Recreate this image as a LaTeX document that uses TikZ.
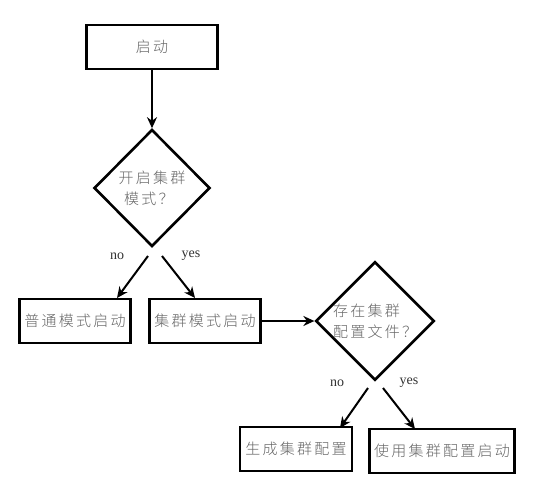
\documentclass[tikz,border=0pt]{standalone}
\usepackage{fontspec}
\newfontfamily\cjk[LetterSpace=15]{Noto Sans CJK SC Light}
\setmainfont{Liberation Serif}
\usetikzlibrary{shapes.geometric,arrows.meta}
\tikzset{
  x=1pt,y=-1pt,
  box/.style={draw=black,line width=2.6pt,minimum height=44pt,inner sep=0pt,
    font=\cjk\fontsize{15}{18}\selectfont,text=black!60},
  dec/.style={draw=black,line width=2.6pt,diamond,aspect=1,inner sep=0pt,
    minimum width=116pt,minimum height=117pt,align=left,
    font=\cjk\fontsize{15}{21}\selectfont,text=black!60},
  arr/.style={draw=black,line width=2pt,-{Stealth[length=11pt,width=10pt]}},
  lab/.style={font=\fontsize{14}{16}\selectfont,text=black!80}
}
\begin{document}
\begin{tikzpicture}
\useasboundingbox[fill=white] (0,0) rectangle (554,490);
\node[box,minimum width=131pt] (start) at (152,47) {启动};
\node[dec] (d1) at (152,188) {开启集群\\\ 模式？};
\node[box,minimum width=111pt] (normal) at (75,321) {普通模式启动};
\node[box,minimum width=111pt] (cluster) at (205,321) {集群模式启动};
\node[dec] (d2) at (375,321) {存在集群\\配置文件？};
\node[box,minimum width=112pt] (gen) at (296,449) {生成集群配置};
\node[box,minimum width=145pt] (use) at (442,451) {使用集群配置启动};
\draw[arr] (start.south) -- (d1.north);
\coordinate (n1) at (148,256);
\coordinate (n1e) at (117,298);
\coordinate (y1) at (162,256);
\coordinate (y1e) at (195,298);
\draw[arr] (n1) -- (n1e);
\draw[arr] (y1) -- (y1e);
\node[lab] (no1) at (117,256) {no};
\node[lab] (yes1) at (191,256) {yes};
\draw[arr] (cluster.east) -- (d2.west);
\coordinate (n2) at (368,388);
\coordinate (n2e) at (340,428);
\coordinate (y2) at (383,388);
\coordinate (y2e) at (415,429);
\draw[arr] (n2) -- (n2e);
\draw[arr] (y2) -- (y2e);
\node[lab] (no2) at (337,383) {no};
\node[lab] (yes2) at (409,383) {yes};
\end{tikzpicture}
\end{document}
